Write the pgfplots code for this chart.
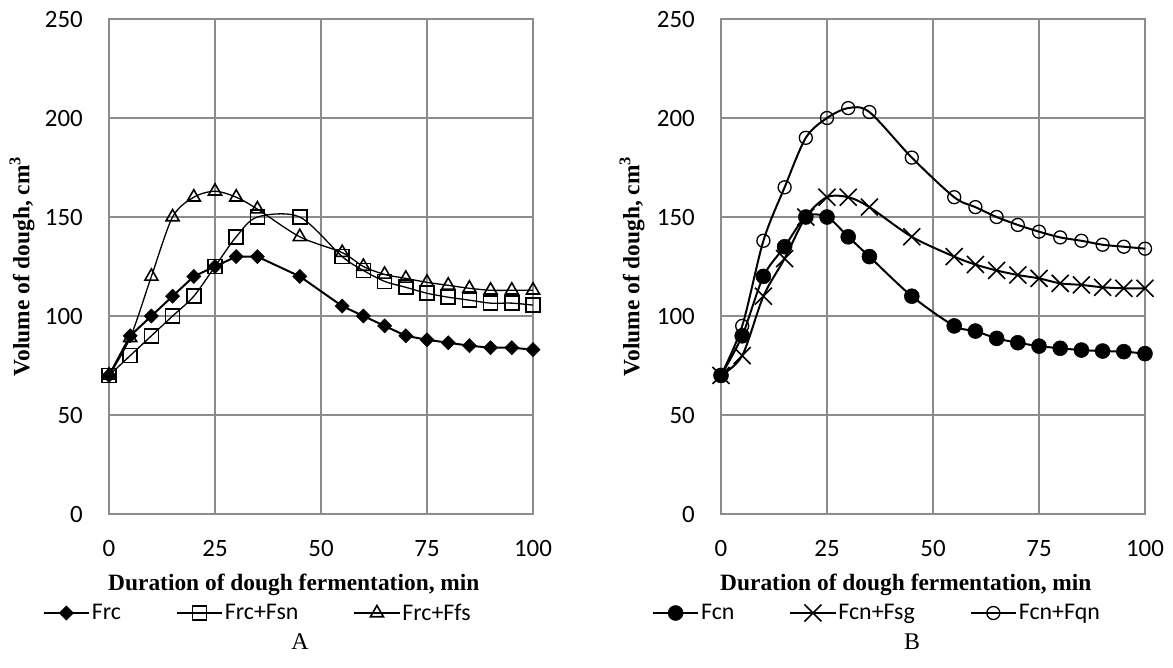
\documentclass[border=0pt]{standalone}
\usepackage{fontspec}
\setmainfont{Liberation Serif}
\newfontfamily\calib{Carlito}
\usepackage{pgfplots}
\pgfplotsset{compat=1.18}
\definecolor{gridgray}{RGB}{140,140,140}
\pgfplotsset{
  mystyle/.style={
    scale only axis, width=424bp, height=495bp,
    xmin=0,xmax=100,ymin=0,ymax=250,
    xtick={0,25,50,75,100}, ytick={0,50,100,150,200,250},
    grid=major, major grid style={gridgray, line width=1.6bp},
    axis line style={gridgray, line width=1.6bp},
    major tick length=0pt,
    tick label style={font=\fontsize{25}{30}\selectfont\calib},
    /pgf/number format/assume math mode=true,
    yticklabel style={anchor=east, inner sep=0pt, xshift=-26bp},
    xticklabel style={anchor=north, inner sep=0pt, yshift=-26bp},
    clip=false,
    xlabel={Duration of dough fermentation, min},
    ylabel={Volume of dough, cm\textsuperscript{3}},
    every axis x label/.style={at={(axis description cs:0.436,-0.154)}, anchor=base, font=\fontsize{23.5}{28}\selectfont\bfseries},
    every axis y label/.style={at={(axis description cs:-0.205,0.5)}, rotate=90, anchor=center, font=\fontsize{23.5}{28}\selectfont\bfseries},
    legend columns=3,
    legend cell align=left,
    legend style={draw=none, fill=none, font=\fontsize{24}{28}\selectfont\calib, anchor=center,
      /tikz/every even column/.append style={column sep=53bp}},
    legend image code/.code={\draw[mark repeat=2,mark phase=2,#1, line width=2bp] plot coordinates {(0bp,0bp) (22.5bp,0bp) (45bp,0bp)};},
  }
}
\begin{document}
\begin{tikzpicture}
\path[use as bounding box] (0bp,0bp) rectangle (1173bp,-668bp);
\begin{axis}[mystyle, at={(109bp,-514bp)}, anchor=south west,
  legend style={at={(axis description cs:0.351,-0.2)}}]
\addplot[black, line width=2bp, mark=square*, mark size=5bp, mark options={rotate=45, line width=0.5bp}] coordinates {
(0,70) (5,90) (10,100) (15,110) (20,120) (25,125) (30,130) (35,130) (45,120) (55,105) (60,100) (65,95) (70,90) (75,88) (80,86.5) (85,85) (90,84) (95,84) (100,83)};
\addlegendentry{Frc}
\addplot[black, line width=1.3bp, smooth, mark=square, mark size=7bp, mark options={line width=1.6bp}] coordinates {
(0,70) (5,80) (10,90) (15,100) (20,110) (25,125) (30,140) (35,150) (45,150) (55,130) (60,123) (65,117.5) (70,114.5) (75,111.5) (80,109.5) (85,108) (90,106.5) (95,106.5) (100,105.5)};
\addlegendentry{Frc+Fsn}
\addplot[black, line width=1.3bp, smooth, mark=triangle, mark size=7.5bp, mark options={line width=1.6bp}] coordinates {
(0,70) (5,89) (10,120) (15,150) (20,160) (25,163) (30,160) (35,154) (45,140) (55,132) (60,125) (65,121) (70,119) (75,117) (80,115.5) (85,114) (90,113) (95,113) (100,113)};
\addlegendentry{Frc+Ffs}
\end{axis}
\begin{axis}[mystyle, at={(721bp,-514bp)}, anchor=south west,
  every axis y label/.style={at={(axis description cs:-0.21,0.5)}, rotate=90, anchor=center, font=\fontsize{23.5}{28}\selectfont\bfseries},
  legend style={at={(axis description cs:0.368,-0.2)}}]
\addplot[black, line width=2bp, smooth, mark=*, mark size=7.5bp, mark options={line width=0.5bp}] coordinates {
(0,70) (5,90) (10,120) (15,135) (20,150) (25,150) (30,140) (35,130) (45,110) (55,95) (60,92.4) (65,88.7) (70,86.5) (75,84.8) (80,83.7) (85,82.8) (90,82.3) (95,82) (100,81)};
\addlegendentry{Fcn}
\addplot[black, line width=2bp, smooth, mark=x, mark size=12bp, mark options={line width=1.6bp}] coordinates {
(0,70) (5,80) (10,110) (15,129) (20,150) (25,160) (30,160) (35,155) (45,140) (55,130) (60,126) (65,123) (70,120.7) (75,119) (80,116.5) (85,115.7) (90,114.5) (95,114) (100,114)};
\addlegendentry{Fcn+Fsg}
\addplot[black, line width=2bp, smooth, mark=o, mark size=6.5bp, mark options={line width=1.3bp}] coordinates {
(0,70) (5,95) (10,138) (15,165) (20,190) (25,200) (30,205) (35,203) (45,180) (55,160) (60,155) (65,150) (70,146) (75,142.6) (80,139.7) (85,138) (90,136) (95,135) (100,134)};
\addlegendentry{Fcn+Fqn}
\end{axis}
\node[font=\fontsize{24}{28}\selectfont, anchor=base] at (300bp,-649bp) {A};
\node[font=\fontsize{24}{28}\selectfont, anchor=base] at (912bp,-649bp) {B};
\end{tikzpicture}
\end{document}
